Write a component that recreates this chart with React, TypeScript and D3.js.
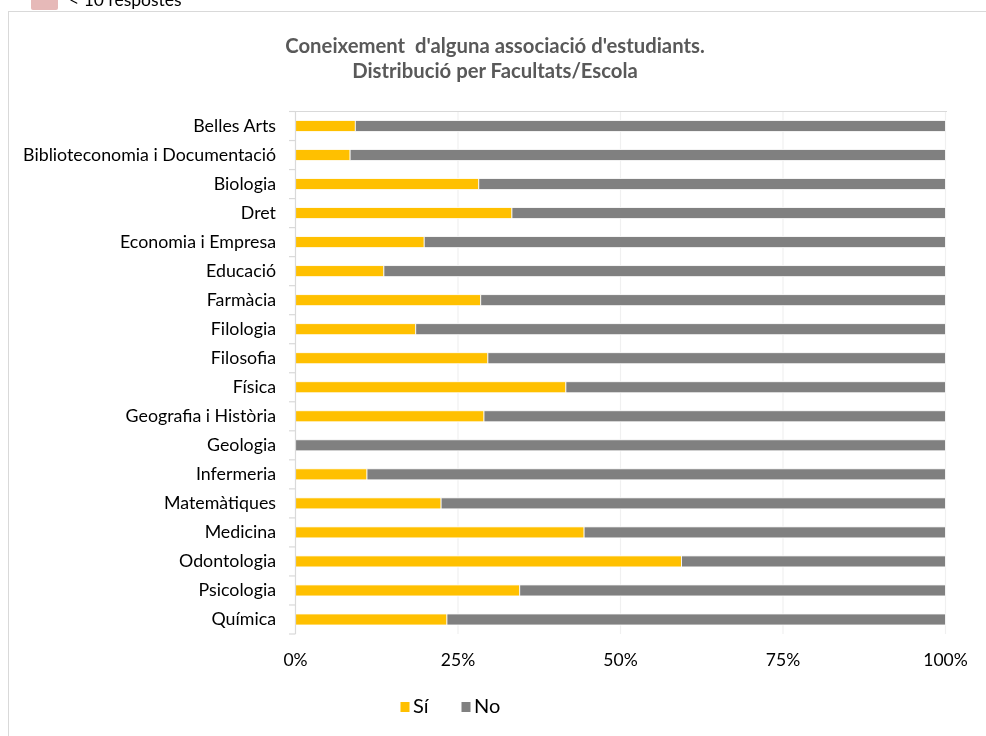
import React from "react";
import * as d3 from "d3";

const categories = [
  "Belles Arts",
  "Biblioteconomia i Documentació",
  "Biologia",
  "Dret",
  "Economia i Empresa",
  "Educació",
  "Farmàcia",
  "Filologia",
  "Filosofia",
  "Física",
  "Geografia i Història",
  "Geologia",
  "Infermeria",
  "Matemàtiques",
  "Medicina",
  "Odontologia",
  "Psicologia",
  "Química",
];

const siValues = [9.2, 8.4, 28.2, 33.3, 19.8, 13.6, 28.5, 18.5, 29.6, 41.6, 29.0, 0, 11.0, 22.4, 44.4, 59.4, 34.5, 23.3];
const noValues = siValues.map((v) => 100 - v);

const xTicks = [0, 25, 50, 75, 100];
const xTickLabels = ["0%", "25%", "50%", "75%", "100%"];
const seriesNames = ["Sí", "No"];
const seriesColors = ["#FFC000", "#808080"];
const titleLines = ["Coneixement  d'alguna associació d'estudiants.", "Distribució per Facultats/Escola"];

const FONT = "Lato, 'Open Sans', sans-serif";

export default function App() {
  const x = d3.scaleLinear().domain([0, 100]).range([295.5, 945.5]);
  const y = d3.scaleBand<string>().domain(categories).range([111.5, 634]).paddingInner(0.62).paddingOuter(0.31);
  const bandStep = y.step();
  const boundaries = d3.range(categories.length + 1).map((i) => 111.5 + i * bandStep);

  const stacked = categories.map((c, i) => {
    const si = siValues[i];
    const no = noValues[i];
    return [
      { key: "si", x0: 0, x1: si, color: seriesColors[0] },
      { key: "no", x0: si, x1: si + no, color: seriesColors[1] },
    ];
  });

  return (
    <svg width={986} height={736} style={{ position: "fixed", left: 0, top: 0 }} fontFamily={FONT}>
      <rect x={0} y={0} width={986} height={736} fill="#fff" />
      {/* outer legend (cut off at the top, as in the source) */}
      <rect x={31} y={-12} width={27} height={22} fill="#E6B9B8" rx={2} />
      <text x={69} y={6} fontSize={17.5} fill="#000">&lt; 10 respostes</text>
      {/* frame */}
      <rect x={8.5} y={11.5} width={990} height={740} fill="#fff" stroke="#D9D9D9" strokeWidth={1} />

      {/* title */}
      {titleLines.map((t, i) => (
        <text
          key={i}
          x={495}
          y={53 + i * 24.5}
          textAnchor="middle"
          fontSize={20.3}
          fontWeight="bold"
          fill="#595959"
          style={{ whiteSpace: "pre" }}
        >
          {t}
        </text>
      ))}

      {/* gridlines */}
      {xTicks.slice(1).map((t) => (
        <line key={t} x1={x(t)} x2={x(t)} y1={111.5} y2={634} stroke="#F0F0F0" strokeWidth={1.2} />
      ))}
      <line x1={289} x2={947} y1={111.5} y2={111.5} stroke="#D9D9D9" strokeWidth={1.2} />

      {/* bars */}
      {categories.map((c, i) =>
        stacked[i]
          .filter((s) => s.x1 > s.x0)
          .map((s) => (
            <rect
              key={c + s.key}
              x={x(s.x0)}
              y={y(c)}
              width={x(s.x1) - x(s.x0)}
              height={y.bandwidth()}
              fill={s.color}
              stroke="#fff"
              strokeWidth={0.8}
            />
          ))
      )}

      {/* category axis */}
      <line x1={295.5} x2={295.5} y1={111.5} y2={634} stroke="#D9D9D9" strokeWidth={1.2} />
      {boundaries.map((b, i) => (
        <line key={i} x1={289} x2={295.5} y1={b} y2={b} stroke="#D9D9D9" strokeWidth={1.2} />
      ))}
      {categories.map((c) => (
        <text key={c} x={276} y={(y(c) as number) + y.bandwidth() / 2 + 6} textAnchor="end" fontSize={17.8} fill="#000">
          {c}
        </text>
      ))}

      {/* x tick labels */}
      {xTicks.map((t, i) => (
        <text key={t} x={x(t)} y={666} textAnchor="middle" fontSize={17.5} fill="#000">
          {xTickLabels[i]}
        </text>
      ))}

      {/* legend */}
      {seriesNames.map((n, i) => {
        const lx = [400.5, 461.5][i];
        return (
          <g key={n}>
            <rect x={lx} y={702} width={9} height={10} fill={seriesColors[i]} />
            <text x={lx + 12.5} y={713} fontSize={20} fill="#000">{n}</text>
          </g>
        );
      })}
    </svg>
  );
}
